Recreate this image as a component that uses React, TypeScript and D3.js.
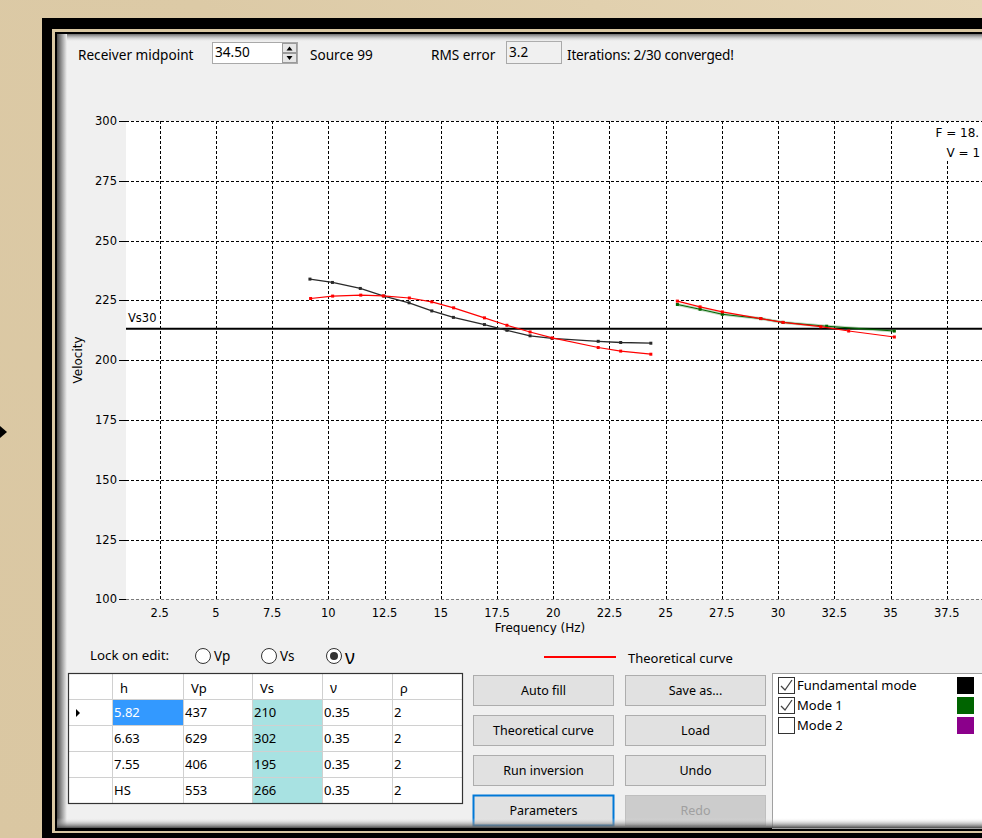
import React from 'react';
import * as d3 from 'd3';

// Measured dispersion curve, fundamental mode (Hz, m/s)
const fundFreq = [9.18, 10.18, 11.42, 12.47, 13.59, 14.6, 15.56, 16.94, 17.94, 18.97, 19.95, 22.0, 23.0, 24.34];
const fundVel = [233.9, 232.5, 230.0, 226.8, 224.0, 220.6, 217.9, 214.9, 212.5, 210.2, 209.1, 207.9, 207.4, 207.1];
// Theoretical curve, fundamental mode
const theoFundFreq = [9.21, 10.19, 11.44, 12.44, 13.6, 14.6, 15.57, 16.94, 17.94, 18.97, 19.96, 22.0, 23.0, 24.34];
const theoFundVel = [225.8, 226.8, 227.2, 226.9, 226.0, 224.4, 221.9, 217.7, 214.6, 211.8, 209.3, 205.3, 203.8, 202.5];
// Measured dispersion curve, mode 1
const mode1Freq = [25.52, 26.53, 27.52, 29.23, 30.22, 32.16, 35.17];
const mode1Vel = [223.3, 221.3, 219.2, 217.4, 215.8, 214.2, 212.2];
// Theoretical curve, mode 1
const theoMode1Freq = [25.52, 26.53, 27.52, 29.23, 30.22, 31.9, 33.14, 35.17];
const theoMode1Vel = [224.7, 222.3, 220.2, 217.4, 215.8, 214.0, 212.2, 209.7];
const vs30 = 213.2;

const xTicks = [2.5, 5, 7.5, 10, 12.5, 15, 17.5, 20, 22.5, 25, 27.5, 30, 32.5, 35, 37.5];
const yTicks = [100, 125, 150, 175, 200, 225, 250, 275, 300];

// Cursor readout (the visible part at the window edge)
const readoutLines = ['F = 18.', 'V = 1'];

// Layer model table
const tableHeaders = ['h', 'Vp', 'Vs', 'ν', 'ρ'];
const layerH = ['5.82', '6.63', '7.55', 'HS'];
const layerVp = [437, 629, 406, 553];
const layerVs = [210, 302, 195, 266];
const layerNu = [0.35, 0.35, 0.35, 0.35];
const layerRho = [2, 2, 2, 2];

const modeNames = ['Fundamental mode', 'Mode 1', 'Mode 2'];
const modeChecked = [true, true, false];
const modeColors = ['#000000', '#006400', '#8b008b'];

const UI = '"Noto Sans", "Open Sans", sans-serif';
const AX = '"DejaVu Sans", Verdana, sans-serif';

export default function App() {
  const x = d3.scaleLinear().domain([1, 40]).range([126, 126 + 39 * 22.486]);
  const y = d3.scaleLinear().domain([100, 300]).range([599.4, 121]);
  const line = d3
    .line<[number, number]>()
    .x((d) => x(d[0]))
    .y((d) => y(d[1]));

  const pts = (f: number[], v: number[]) => f.map((fi, i) => [fi, v[i]] as [number, number]);
  const fund = pts(fundFreq, fundVel);
  const theoFund = pts(theoFundFreq, theoFundVel);
  const m1 = pts(mode1Freq, mode1Vel);
  const theoM1 = pts(theoMode1Freq, theoMode1Vel);

  const px = (v: number) => Math.round(v) + 0.5;
  const plotTop = y(300);
  const plotBottom = y(100);
  const plotLeft = x(1);

  const markers = (data: [number, number][], color: string) =>
    data.map((d, i) => (
      <rect key={i} x={x(d[0]) - 1.5} y={y(d[1]) - 1.5} width={3} height={3} fill={color} />
    ));

  const colX = [68, 112, 183, 252, 322, 392, 463];
  const rowY = [673, 699, 725, 751, 777, 803];
  const tableRows = layerH.map((h, i) => [h, String(layerVp[i]), String(layerVs[i]), layerNu[i].toFixed(2), String(layerRho[i])]);

  const buttons = [
    { label: 'Auto fill', x: 473, y: 675 },
    { label: 'Theoretical curve', x: 473, y: 715 },
    { label: 'Run inversion', x: 473, y: 755 },
    { label: 'Parameters', x: 473, y: 795, focus: true },
    { label: 'Save as...', x: 625, y: 675 },
    { label: 'Load', x: 625, y: 715 },
    { label: 'Undo', x: 625, y: 755 },
    { label: 'Redo', x: 625, y: 795, disabled: true },
  ];

  return (
    <svg
      width={982}
      height={838}
      viewBox="0 0 982 838"
      style={{ position: 'absolute', left: 0, top: 0, display: 'block' }}
    >
      <defs>
        <linearGradient id="bg" x1="0" y1="1" x2="1" y2="0">
          <stop offset="0" stopColor="#dac7a2" />
          <stop offset="0.6" stopColor="#dccaa6" />
          <stop offset="1" stopColor="#e6d6b6" />
        </linearGradient>
        <linearGradient id="shL" x1="0" y1="0" x2="1" y2="0">
          <stop offset="0" stopColor="#4a4a4a" />
          <stop offset="1" stopColor="#f0f0f0" />
        </linearGradient>
        <linearGradient id="shT" x1="0" y1="0" x2="0" y2="1">
          <stop offset="0" stopColor="#6a6a6a" />
          <stop offset="1" stopColor="#f0f0f0" stopOpacity={0} />
        </linearGradient>
        <linearGradient id="shB" x1="0" y1="0" x2="0" y2="1">
          <stop offset="0" stopColor="#f0f0f0" stopOpacity={0} />
          <stop offset="1" stopColor="#4a4a4a" />
        </linearGradient>
        <clipPath id="plotClip">
          <rect x={plotLeft} y={plotTop} width={982 - plotLeft} height={plotBottom - plotTop} />
        </clipPath>
      </defs>

      {/* desktop background and frame */}
      <rect x={0} y={0} width={982} height={838} fill="url(#bg)" />
      <polygon points="0,426 7,432 0,438" fill="#000" />
      <rect x={42} y={18} width={940} height={820} fill="#000" />
      <rect x={52} y={29} width={930} height={804} fill="#d9c7a2" />
      <rect x={55} y={32} width={927} height={799} fill="#000" />
      <rect x={57} y={34} width={925} height={794} fill="#f0f0f0" />

      {/* top bar */}
      <g fontFamily={UI} fontSize={13.6} fill="#000">
        <text x={78} y={60}>Receiver midpoint</text>
        <rect x={212.5} y={42.5} width={85} height={21} fill="#fff" stroke="#a9a9a9" />
        <text x={215} y={57}>34.50</text>
        <rect x={282.5} y={43.5} width={14} height={9} fill="#e6e6e6" stroke="#9a9a9a" />
        <rect x={282.5} y={53.5} width={14} height={9} fill="#e6e6e6" stroke="#9a9a9a" />
        <polygon points="286.5,50.5 292.5,50.5 289.5,46.5" fill="#000" />
        <polygon points="286.5,56 292.5,56 289.5,60" fill="#000" />
        <text x={310} y={60}>Source 99</text>
        <text x={431} y={60}>RMS error</text>
        <rect x={506.5} y={41.5} width={55} height={22} fill="#f0f0f0" stroke="#a9a9a9" />
        <text x={509} y={57}>3.2</text>
        <text x={567} y={60} letterSpacing={-0.2}>Iterations: 2/30 converged!</text>
      </g>

      {/* plot area */}
      <rect x={plotLeft} y={plotTop} width={982 - plotLeft} height={plotBottom - plotTop} fill="#fff" />
      <g clipPath="url(#plotClip)">
        {xTicks.map((t) => (
          <line key={'gx' + t} x1={px(x(t))} x2={px(x(t))} y1={plotTop} y2={plotBottom} stroke="#000" strokeWidth={1} strokeDasharray="3,2" />
        ))}
        {yTicks.map((t) => (
          <line key={'gy' + t} x1={plotLeft} x2={982} y1={px(y(t))} y2={px(y(t))} stroke="#000" strokeWidth={1} strokeDasharray="3,2" />
        ))}
        <line x1={plotLeft} x2={982} y1={y(vs30)} y2={y(vs30)} stroke="#000" strokeWidth={2} />
        <text x={128} y={322} fontFamily={AX} fontSize={11.5} fill="#000">Vs30</text>

        <path d={line(m1) ?? ''} fill="none" stroke="#006400" strokeWidth={3} strokeOpacity={0.25} />
        <path d={line(m1) ?? ''} fill="none" stroke="#006400" strokeWidth={1} />
        {markers(m1, '#006400')}
        <path d={line(fund) ?? ''} fill="none" stroke="#2a2a2a" strokeWidth={1.3} />
        {markers(fund, '#2a2a2a')}
        <path d={line(theoFund) ?? ''} fill="none" stroke="#ff0000" strokeWidth={1.2} />
        {markers(theoFund, '#ff0000')}
        <path d={line(theoM1) ?? ''} fill="none" stroke="#ff0000" strokeWidth={1.2} />
        {markers(theoM1, '#ff0000')}

        {/* cursor readout */}
        <rect x={928} y={123} width={60} height={38} fill="#fff" />
        <g fontFamily={AX} fontSize={12} fill="#000">
          <text x={935.5} y={137}>{readoutLines[0]}</text>
          <text x={946.5} y={157}>{readoutLines[1]}</text>
        </g>
      </g>

      {/* axes */}
      <g fontFamily={AX} fontSize={11.5} fill="#000">
        {yTicks.map((t) => (
          <g key={'ty' + t}>
            <line x1={119} x2={126} y1={px(y(t))} y2={px(y(t))} stroke="#000" />
            <text x={117} y={y(t) + 4} textAnchor="end">{t}</text>
          </g>
        ))}
        {xTicks.map((t) => (
          <text key={'tx' + t} x={x(t)} y={617} textAnchor="middle">{t}</text>
        ))}
        <text x={540} y={632} textAnchor="middle" fontSize={12}>Frequency (Hz)</text>
        <text transform="translate(82,360) rotate(-90)" textAnchor="middle" fontSize={12}>Velocity</text>
      </g>

      {/* lock on edit */}
      <g fontFamily={UI} fontSize={13.3} fill="#000">
        <text x={90} y={660}>Lock on edit:</text>
        {[
          { cx: 203, label: 'Vp', on: false },
          { cx: 269, label: 'Vs', on: false },
          { cx: 334, label: 'ν', on: true },
        ].map((r) => (
          <g key={r.label}>
            <circle cx={r.cx} cy={656} r={7.5} fill="#fff" stroke="#333" strokeWidth={1} />
            {r.on && <circle cx={r.cx} cy={656} r={4} fill="#333" />}
            <text x={r.cx + 11} y={r.on ? 664 : 661} fontSize={r.on ? 19 : 13.5}>{r.label}</text>
          </g>
        ))}
      </g>

      {/* layer table */}
      <g fontFamily={UI} fontSize={13}>
        <rect x={68} y={673} width={395} height={131} fill="#fff" />
        {tableRows.map((row, i) =>
          row.map((_, j) => {
            const fill = i === 0 && j === 0 ? '#3399ff' : j === 2 ? '#a8e2e2' : '#fff';
            return (
              <rect key={`c${i}-${j}`} x={colX[j + 1]} y={rowY[i + 1]} width={colX[j + 2] - colX[j + 1]} height={26} fill={fill} />
            );
          })
        )}
        {colX.slice(1, -1).map((cx) => (
          <line key={'vl' + cx} x1={cx + 0.5} x2={cx + 0.5} y1={673} y2={804} stroke="#d0d0d0" />
        ))}
        {rowY.slice(1, -1).map((ry) => (
          <line key={'hl' + ry} x1={68} x2={463} y1={ry + 0.5} y2={ry + 0.5} stroke="#d0d0d0" />
        ))}
        <rect x={68.5} y={673.5} width={394} height={130} fill="none" stroke="#333" strokeWidth={1.2} />
        {tableHeaders.map((h, j) => (
          <text key={'th' + h} x={colX[j + 1] + 8} y={693} fill="#000" fontSize={h === 'ν' ? 13.5 : 13}>{h}</text>
        ))}
        {tableRows.map((row, i) =>
          row.map((v, j) => (
            <text key={`t${i}-${j}`} x={colX[j + 1] + 2} y={rowY[i + 1] + 18} fill={i === 0 && j === 0 ? '#fff' : '#000'}>{v}</text>
          ))
        )}
        <polygon points="76,709 76,717 80,713" fill="#000" />
      </g>

      {/* theoretical curve key */}
      <line x1={544} x2={616} y1={657} y2={657} stroke="#ff0000" strokeWidth={2} />
      <text x={628} y={663} fontFamily={UI} fontSize={13} fill="#000">Theoretical curve</text>

      {/* buttons */}
      <g fontFamily={UI} fontSize={12.5}>
        {buttons.map((b) => (
          <g key={b.label}>
            <rect
              x={b.x + 0.5}
              y={b.y + 0.5}
              width={140}
              height={30}
              fill={b.disabled ? '#cccccc' : '#e1e1e1'}
              stroke={b.focus ? '#0078d7' : b.disabled ? '#bfbfbf' : '#adadad'}
              strokeWidth={b.focus ? 2 : 1}
            />
            <text x={b.x + 70.5} y={b.y + 20} textAnchor="middle" fill={b.disabled ? '#a0a0a0' : '#000'}>{b.label}</text>
          </g>
        ))}
      </g>

      {/* mode list */}
      <rect x={772.5} y={673.5} width={215} height={155} fill="#fff" stroke="#a0a0a0" />
      <g fontFamily={UI} fontSize={13}>
        {modeNames.map((m, i) => (
          <g key={m}>
            <rect x={778.5} y={677.5 + i * 20} width={16} height={16} fill="#fff" stroke="#333" />
            {modeChecked[i] && (
              <polyline
                points={`781,${686 + i * 20} 785,${690 + i * 20} 792,${680 + i * 20}`}
                fill="none"
                stroke="#444"
                strokeWidth={1.3}
              />
            )}
            <text x={797} y={690 + i * 20} fill="#000">{m}</text>
            <rect x={957} y={677 + i * 20} width={17} height={17} fill={modeColors[i]} />
          </g>
        ))}
      </g>

      {/* window edge shading */}
      <rect x={57} y={34} width={925} height={8} fill="url(#shT)" />
      <rect x={57} y={34} width={10} height={794} fill="url(#shL)" />
      <rect x={57} y={818} width={925} height={10} fill="url(#shB)" />
    </svg>
  );
}
